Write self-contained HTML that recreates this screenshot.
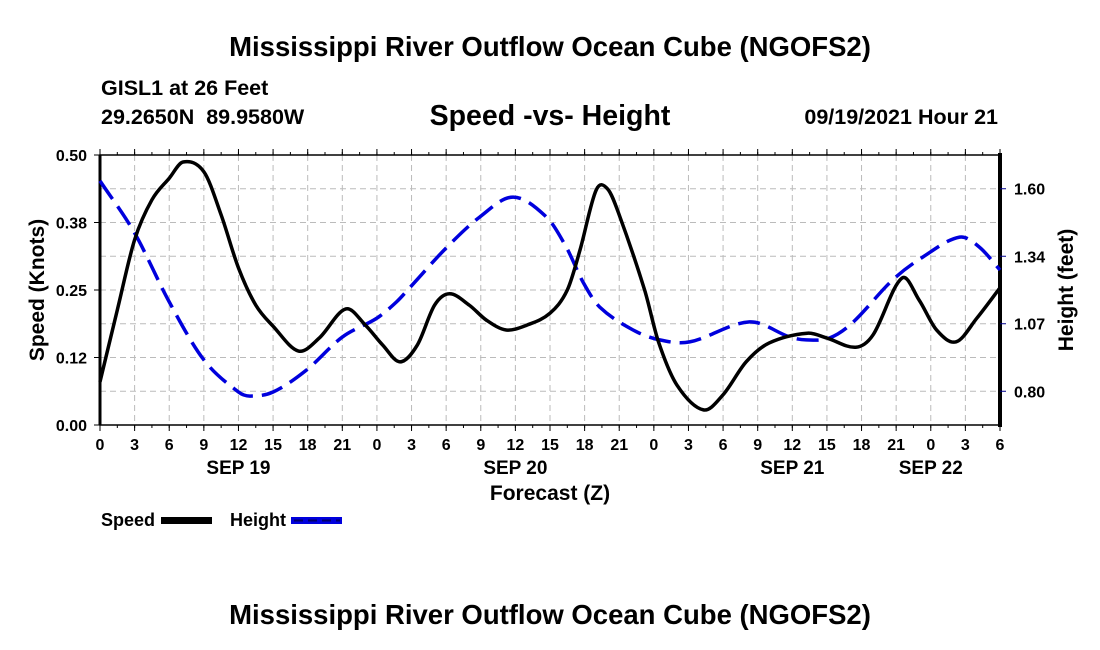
<!DOCTYPE html>
<html><head><meta charset="utf-8"><style>
body{margin:0;background:#fff;}
svg{display:block;font-family:"Liberation Sans",sans-serif;font-weight:bold;}
</style></head><body>
<svg id="chart" width="1100" height="650" viewBox="0 0 1100 650">
<text x="550" y="56" font-size="27.5" text-anchor="middle">Mississippi River Outflow Ocean Cube (NGOFS2)</text>
<text x="101" y="95" font-size="21.5">GISL1 at 26 Feet</text>
<text x="101" y="124" font-size="21.5" xml:space="preserve">29.2650N  89.9580W</text>
<text x="550" y="125" font-size="28.5" text-anchor="middle">Speed -vs- Height</text>
<text x="998" y="124" font-size="21.5" text-anchor="end">09/19/2021 Hour 21</text>
<g id="grid"></g>
<g id="axes"></g>
<g id="series"></g>
<text x="550" y="500" font-size="21" text-anchor="middle">Forecast (Z)</text>
<text transform="translate(44,290) rotate(-90)" font-size="21" text-anchor="middle">Speed (Knots)</text>
<text transform="translate(1073,290) rotate(-90)" font-size="21" text-anchor="middle">Height (feet)</text>
<g>
<text x="101" y="526" font-size="18">Speed</text>
<rect x="161" y="517" width="51" height="7" fill="#000"/>
<text x="230" y="526" font-size="18">Height</text>
<rect x="291" y="517" width="51" height="7" fill="#0000dd"/>
<line x1="294" y1="520.5" x2="340" y2="520.5" stroke="#00006a" stroke-width="2" stroke-dasharray="9,5"/>
</g>
<text x="550" y="624" font-size="27.5" text-anchor="middle">Mississippi River Outflow Ocean Cube (NGOFS2)</text>
</svg>
<script>
const speedHours=[0,1.5,3,4.5,6,7.2,9,10.5,12,13.5,15,17.2,19,21.3,23,24.5,26,27.5,29,30.3,32,33.5,35.2,37,39,40.5,41.6,43,44,45,47.2,48.4,50,52.3,54,56,58,61.3,63,65.5,67,69.5,71,72.5,74.2,76,78];
const speedValues=[0.080,0.213,0.343,0.417,0.457,0.487,0.469,0.389,0.291,0.222,0.183,0.137,0.161,0.215,0.185,0.148,0.117,0.148,0.222,0.243,0.222,0.194,0.176,0.185,0.207,0.25,0.324,0.435,0.437,0.389,0.25,0.154,0.074,0.028,0.056,0.117,0.152,0.170,0.161,0.144,0.167,0.272,0.231,0.176,0.154,0.198,0.254];
const heightHours=[0,3,6,9,12,13,15,17.9,21,24,25.7,26.9,30,32.9,35.8,38.7,40.4,41.9,43.3,46.2,48.5,51.1,56.3,59.8,61.2,63.2,65.2,68.7,71.3,74.5,76.2,78];
const heightValues=[1.631,1.425,1.153,0.924,0.797,0.781,0.797,0.884,1.014,1.089,1.153,1.212,1.366,1.488,1.567,1.488,1.370,1.228,1.133,1.042,1.003,0.995,1.074,1.014,1.003,1.010,1.070,1.240,1.330,1.409,1.370,1.279];
const xTickLabels=["0","3","6","9","12","15","18","21","0","3","6","9","12","15","18","21","0","3","6","9","12","15","18","21","0","3","6"];
const dayLabels=["SEP 19","SEP 20","SEP 21","SEP 22"];
const dayLabelHours=[12,36,60,72];
const leftTickLabels=["0.00","0.12","0.25","0.38","0.50"];
const leftTickValues=[0,0.125,0.25,0.375,0.5];
const rightTickLabels=["0.80","1.07","1.34","1.60"];
const rightTickValues=[0.8,1.0667,1.3333,1.6];

const X0=100,X1=1000,Y0=425,Y1=155,HMAX=78;
const RMIN=0.6667,RMAX=1.7333;
const xs=h=>X0+(h/HMAX)*(X1-X0);
const yl=v=>Y0-(v/0.5)*(Y0-Y1);
const yr=v=>Y0-((v-RMIN)/(RMAX-RMIN))*(Y0-Y1);
const NS="http://www.w3.org/2000/svg";
function mk(tag,attrs,parent){const e=document.createElementNS(NS,tag);for(const k in attrs)e.setAttribute(k,attrs[k]);parent.appendChild(e);return e;}
const grid=document.getElementById('grid'),axes=document.getElementById('axes'),series=document.getElementById('series');
for(let i=1;i<26;i++){const g=mk('line',{x1:xs(i*3),x2:xs(i*3),y1:Y1,y2:Y0,stroke:'#bbb','stroke-dasharray':'6,4'},grid);

}
for(let i=1;i<8;i++){const y=Y0-i*(Y0-Y1)/8;const g=mk('line',{x1:X0,x2:X1,y1:y,y2:y,stroke:'#bbb','stroke-dasharray':'6,4'},grid);

}
const fr=mk('rect',{x:X0,y:Y1,width:X1-X0,height:Y0-Y1,fill:'none',stroke:'#000','stroke-width':1.5},axes);


mk('line',{x1:X0,x2:X0,y1:Y1,y2:Y0,stroke:'#000','stroke-width':3},axes);
mk('line',{x1:X1,x2:X1,y1:Y1-2,y2:Y0+2,stroke:'#000','stroke-width':4},axes);
for(let i=0;i<=52;i++){const x=xs(i*1.5);mk('line',{x1:x,x2:x,y1:Y0,y2:Y0+3,stroke:'#000'},axes);mk('line',{x1:x,x2:x,y1:Y1,y2:Y1-3,stroke:'#000'},axes);}
xTickLabels.forEach((l,i)=>{const x=xs(i*3);
mk('line',{x1:x,x2:x,y1:Y0,y2:Y0+6,stroke:'#000'},axes);mk('line',{x1:x,x2:x,y1:Y1,y2:Y1-6,stroke:'#000'},axes);
const t=mk('text',{x:x,y:450,'font-size':16,'text-anchor':'middle'},axes);t.textContent=l;

});
dayLabels.forEach((l,i)=>{const t=mk('text',{x:xs(dayLabelHours[i]),y:474,'font-size':19,'text-anchor':'middle'},axes);t.textContent=l;

});
leftTickLabels.forEach((l,i)=>{const y=yl(leftTickValues[i]);mk('line',{x1:X0-6,x2:X0,y1:y,y2:y,stroke:'#000'},axes);
const t=mk('text',{x:87,y:y+6,'font-size':16,'text-anchor':'end'},axes);t.textContent=l;

});
rightTickLabels.forEach((l,i)=>{const y=yr(rightTickValues[i]);mk('line',{x1:X1,x2:X1+6,y1:y,y2:y,stroke:'#00008b'},axes);
const t=mk('text',{x:1014,y:y+6,'font-size':16},axes);t.textContent=l;

});
function smooth(pts){let d=`M${pts[0][0]},${pts[0][1]}`;for(let i=0;i<pts.length-1;i++){const p0=pts[i-1]||pts[i],p1=pts[i],p2=pts[i+1],p3=pts[i+2]||p2;
const dx=p2[0]-p1[0];
const m1=(p2[1]-p0[1])/(p2[0]-p0[0]||1),m2=(p3[1]-p1[1])/(p3[0]-p1[0]||1);
d+=` C${p1[0]+dx/3},${p1[1]+m1*dx/3} ${p2[0]-dx/3},${p2[1]-m2*dx/3} ${p2[0]},${p2[1]}`;}return d;}
const hp=mk('path',{d:smooth(heightHours.map((h,i)=>[xs(h),yr(heightValues[i])])),fill:'none',stroke:'#0000dd','stroke-width':3.5,'stroke-dasharray':'22,9'},series);


const sp=mk('path',{d:smooth(speedHours.map((h,i)=>[xs(h),yl(speedValues[i])])),fill:'none',stroke:'#000','stroke-width':3.5},series);


</script>
</body></html>
